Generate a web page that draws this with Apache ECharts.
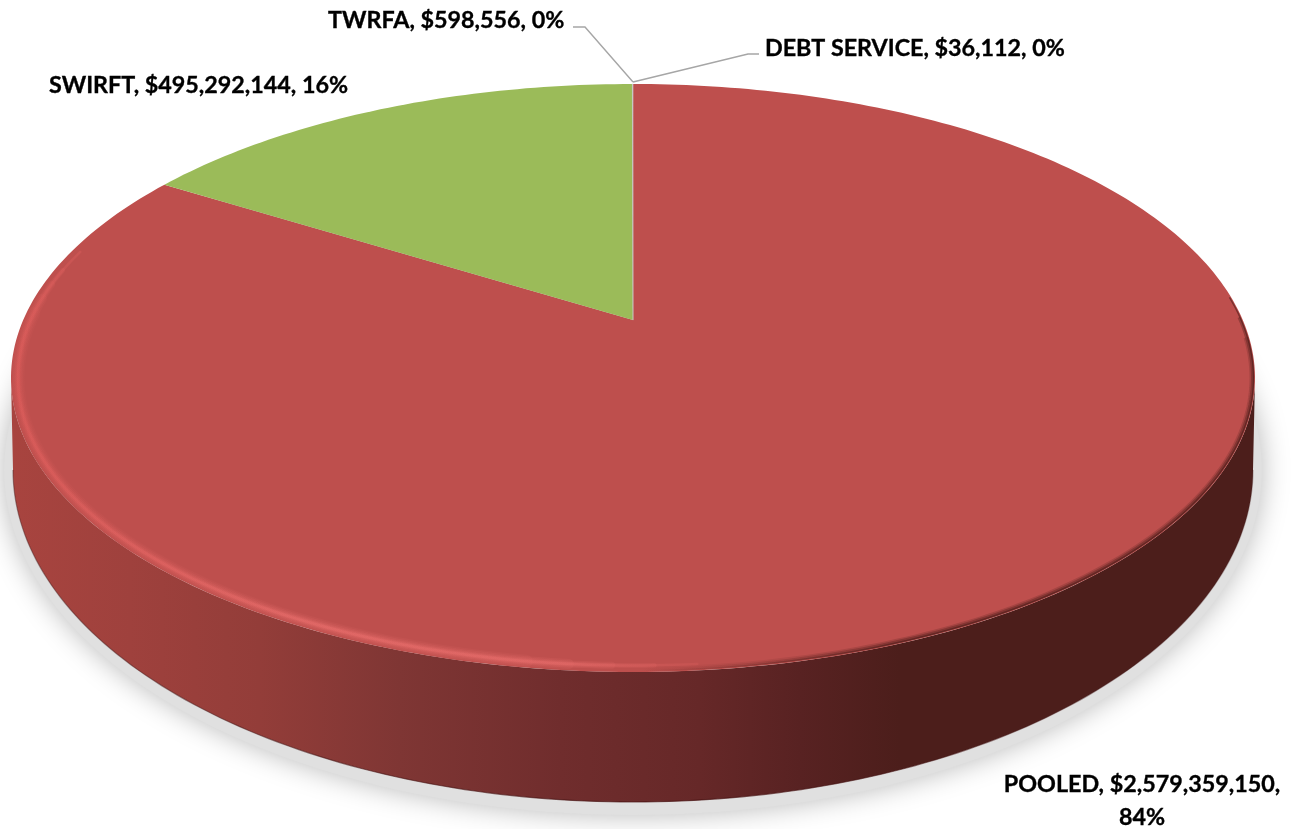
<!DOCTYPE html>
<html><head><meta charset="utf-8">
<style>html,body{margin:0;padding:0;background:#fff}#c{width:1291px;height:829px}</style>
<script src="https://cdn.jsdelivr.net/npm/echarts@6/dist/echarts.min.js"></script>
</head><body><div id="c"></div>
<script>
// Data, in drawing order (clockwise from 12 o'clock)
const names  = ['DEBT SERVICE', 'POOLED', 'SWIRFT', 'TWRFA'];
const values = [36112, 2579359150, 495292144, 598556];
const colors = ['#c8c8c8', '#BE4F4D', '#9BBB59', '#c8c8c8'];

const total = values.reduce((a, b) => a + b, 0);
const G = { cx: 633, cy: 378, rx: 622, ry: 294, bcy: 470, brx: 620, bry: 332, tilt: 0.197 };
const rad = Math.PI / 180;

// a flat disc seen in perspective: true pie angle -> angle on the drawn ellipse
function toEllipseAngle(theta) {
  const u = Math.sin(theta), v = Math.cos(theta), a = G.tilt, d = 1 + a * v;
  return Math.atan2(u * Math.sqrt(1 - a * a) / d, (v + a) / d);
}
function unwrap(phi, ref) { while (phi < ref - 1e-9) phi += 2 * Math.PI; return phi; }
function topPt(phi, dx, dy) {
  return [G.cx + (G.rx - (dx || 0)) * Math.sin(phi), G.cy - (G.ry - (dy || 0)) * Math.cos(phi)];
}
function botPt(phi, dx, dy) {
  return [G.cx + (G.brx + (dx || 0)) * Math.sin(phi), G.bcy - (G.bry + (dy || 0)) * Math.cos(phi)];
}
function arc(fn, a, b, n, dx, dy) {
  const p = [];
  for (let i = 0; i <= n; i++) p.push(fn(a + (b - a) * i / n, dx, dy));
  return p;
}
function hGrad(stops) {
  return new echarts.graphic.LinearGradient(0, 0, 1291, 0,
    stops.map(s => ({ offset: s[0] / 1291, color: s[1] })), true);
}
function labelText(i) {
  const pct = Math.round(values[i] / total * 100);
  const sep = names[i] === 'POOLED' ? ',\n' : ', ';
  return names[i] + ', $' + values[i].toLocaleString('en-US') + sep + pct + '%';
}
const labelPlace = {
  'DEBT SERVICE': { x: 765, y: 32, align: 'left' },
  'POOLED': { x: 1142, y: 768, align: 'center' },
  'SWIRFT': { x: 49, y: 69, align: 'left' },
  'TWRFA': { x: 328, y: 4, align: 'left' }
};
const leaders = {
  'DEBT SERVICE': [[633, 82], [748, 54], [759, 54]],
  'TWRFA': [[633, 82], [585, 27], [573, 27]]
};

function renderShadow() {
  return {
    type: 'group', silent: true, children: [{
      type: 'polygon',
      shape: { points: arc(botPt, 0, 2 * Math.PI, 180, 9, 13) },
      style: { fill: '#e0e0e0', shadowColor: 'rgba(185,185,185,1)', shadowBlur: 28 }
    }]
  };
}

function renderSlice(params, api) {
  const i = params.dataIndex;
  let before = 0;
  for (let k = 0; k < i; k++) before += api.value(1, k);
  const t0 = before / total * 2 * Math.PI;
  const t1 = (before + api.value(1)) / total * 2 * Math.PI;
  const children = [];

  // side wall: only the part of the slice on the near half of the rim
  const p0 = unwrap(toEllipseAngle(t0), 0), p1 = unwrap(toEllipseAngle(t1), p0);
  const wa = Math.max(p0, Math.PI / 2), wb = Math.min(p1, 3 * Math.PI / 2);
  if (wb > wa) {
    const topArc = arc(topPt, wa, wb, 160);
    const botArc = arc(botPt, wa, wb, 160);
    children.push({
      type: 'polygon',
      shape: { points: topArc.concat(botArc.slice().reverse()) },
      style: {
        fill: hGrad([[10, '#a8443f'], [130, '#9f413d'], [260, '#933d39'], [400, '#7f3634'],
                     [560, '#702d2d'], [700, '#662828'], [800, '#582222'], [900, '#4c1e1b'], [1260, '#4c1e1b']])
      }
    });
    children.push({
      type: 'polyline', shape: { points: botArc },
      style: { fill: null, lineWidth: 1.2, stroke: hGrad([[20, 'rgba(70,25,25,0.45)'], [700, 'rgba(70,15,15,0.7)'], [1260, 'rgba(60,20,20,0.3)']]) }
    });
  }

  // top face
  const share = api.value(1) / total;
  const face = [[G.cx, G.cy - G.ry * G.tilt]];
  const steps = Math.max(2, Math.ceil((t1 - t0) / rad));
  for (let s = 0; s <= steps; s++) {
    face.push(topPt(toEllipseAngle(t0 + (t1 - t0) * s / steps)));
  }
  children.push({
    type: 'polygon', shape: { points: face },
    style: share < 0.01
      ? { fill: api.visual('color'), stroke: api.visual('color'), lineWidth: 0.6 }
      : { fill: api.visual('color') }
  });

  // bevel on the rim
  if (wb > wa) {
    const hi = (alpha) => hGrad([
      [10, 'rgba(232,98,96,' + alpha * 0.85 + ')'], [300, 'rgba(242,116,114,' + alpha + ')'],
      [560, 'rgba(242,116,114,' + alpha + ')'], [760, 'rgba(232,98,96,' + alpha * 0.45 + ')'],
      [880, 'rgba(232,98,96,0)'], [1291, 'rgba(232,98,96,0)']]);
    [[13, 0.08, 190, 283], [10, 0.12, 186, 286], [7, 0.16, 182, 289], [4.5, 0.22, 178, 292], [2.5, 0.3, 174, 296]].forEach(b => {
      children.push({
        type: 'polyline', shape: { points: arc(topPt, b[2] * rad, b[3] * rad, 120, 7, 6.5) },
        style: { fill: null, lineCap: 'round', lineWidth: b[0], stroke: hi(b[1]) }
      });
    });
    const dk = (alpha) => hGrad([[640, 'rgba(70,25,22,0)'], [900, 'rgba(70,25,22,' + alpha + ')'], [1291, 'rgba(70,25,22,' + alpha + ')']]);
    [[5, 0.2, 3, 82], [3, 0.35, 2.5, 78], [1.5, 0.55, 1.5, 74]].forEach(b => {
      children.push({
        type: 'polyline', shape: { points: arc(topPt, b[3] * rad, 200 * rad, 120, b[2], b[2]) },
        style: { fill: null, lineWidth: b[0], stroke: dk(b[1]) }
      });
    });
  }

  // leader line and label
  const name = names[i], place = labelPlace[name];
  if (leaders[name]) {
    children.push({
      type: 'polyline', shape: { points: leaders[name] },
      style: { fill: null, stroke: '#a6a6a6', lineWidth: 1.4 }
    });
  }
  children.push({
    type: 'text', z2: 10,
    style: {
      x: place.x, y: place.y, text: labelText(i), align: place.align, verticalAlign: 'top',
      fill: '#000', stroke: '#000', lineWidth: 0.35,
      font: 'bold 23.3px Lato, "Liberation Sans", sans-serif', lineHeight: 33
    }
  });
  return { type: 'group', silent: true, children };
}

const chart = echarts.init(document.getElementById('c'), null, { renderer: 'canvas' });
chart.setOption({
  animation: false,
  backgroundColor: '#fff',
  series: [
    { type: 'custom', name: 'shadow', coordinateSystem: 'none', silent: true, z: 1,
      data: [[total]], renderItem: renderShadow },
    { type: 'custom', name: 'funds', coordinateSystem: 'none', silent: true, z: 2,
      dimensions: ['index', 'value'],
      data: names.map((n, i) => ({ name: n, value: [i, values[i]], itemStyle: { color: colors[i] } })),
      renderItem: renderSlice }
  ]
});
</script></body></html>
